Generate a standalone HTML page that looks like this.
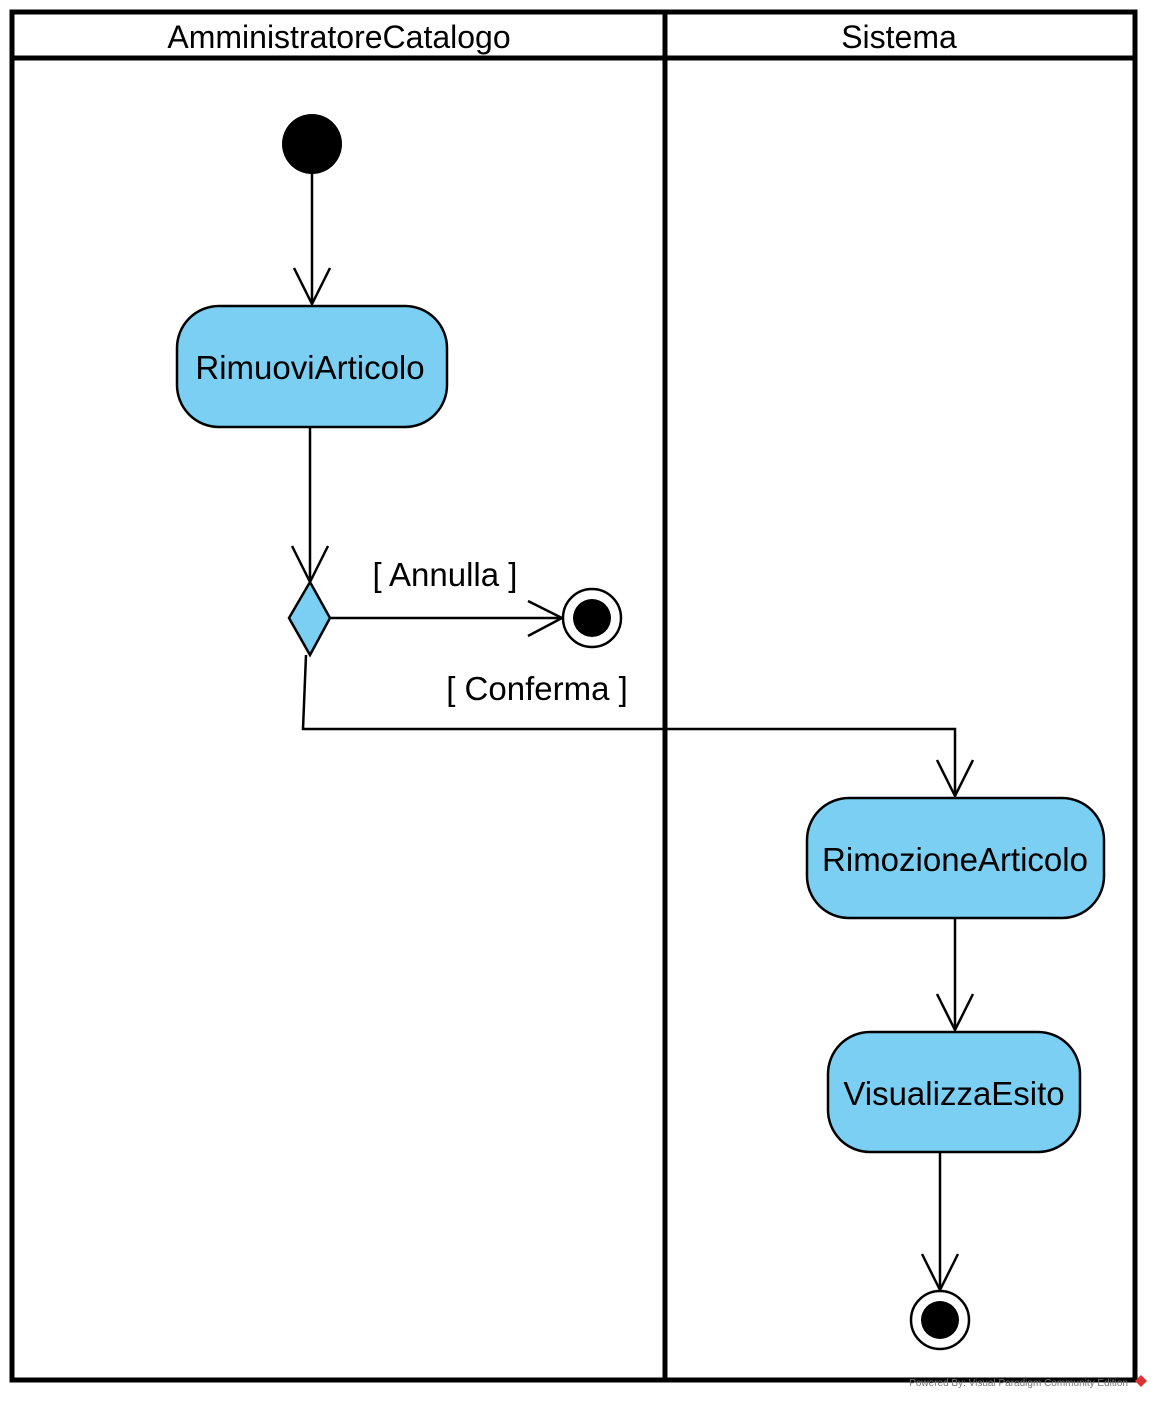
<!DOCTYPE html>
<html><head><meta charset="utf-8"><style>
html,body{margin:0;padding:0;background:#fff;}
svg{display:block;}
text{font-family:"Liberation Sans",Arial,sans-serif;fill:#000;}
</style></head><body>
<svg width="1158" height="1404" viewBox="0 0 1158 1404" xmlns="http://www.w3.org/2000/svg">
<g fill="none" stroke="#000" stroke-width="5">
<rect x="12" y="12" width="1123" height="1368"/>
<line x1="12" y1="58" x2="1135" y2="58"/>
<line x1="665" y1="12" x2="665" y2="1380"/>
</g>
<text x="339" y="48" font-size="32" text-anchor="middle">AmministratoreCatalogo</text>
<text x="899" y="48" font-size="32" text-anchor="middle">Sistema</text>

<circle cx="312" cy="144" r="30" fill="#000"/>

<g fill="none" stroke="#000" stroke-width="2.5">
<g>
<line x1="312" y1="174" x2="312" y2="304"/><polyline points="294,268 312,304 330,268"/></g>
<g>
<line x1="310" y1="427" x2="310" y2="582"/><polyline points="292,546 310,582 328,546"/></g>
<g>
<line x1="330" y1="618" x2="562" y2="618"/><polyline points="528,601 562,618 528,636"/></g>
<g>
<polyline points="306,655 303,729 955,729 955,796"/><polyline points="937,760 955,796 973,760"/></g>
<g>
<line x1="955" y1="918" x2="955" y2="1030"/><polyline points="937,994 955,1030 973,994"/></g>
<g>
<line x1="940" y1="1152" x2="940" y2="1290"/><polyline points="922,1254 940,1290 958,1254"/></g>
</g>

<g>
<rect x="177" y="306" width="270" height="121" rx="42" fill="#7BCFF3" stroke="#000" stroke-width="2.5"/>
<text x="310" y="379" font-size="33" text-anchor="middle">RimuoviArticolo</text></g>

<polygon points="310,582 330,618 310,655 289,618" fill="#7BCFF3" stroke="#000" stroke-width="2.5"/>

<text x="445" y="586" font-size="33" text-anchor="middle">[ Annulla ]</text>
<text x="537" y="700" font-size="33" text-anchor="middle">[ Conferma ]</text>

<g>
<circle cx="592" cy="618" r="29" fill="#fff" stroke="#000" stroke-width="2.5"/>
<circle cx="592" cy="618" r="19" fill="#000"/></g>

<g>
<rect x="807" y="798" width="297" height="120" rx="42" fill="#7BCFF3" stroke="#000" stroke-width="2.5"/>
<text x="955" y="871" font-size="33" text-anchor="middle">RimozioneArticolo</text></g>

<g>
<rect x="828" y="1032" width="252" height="120" rx="42" fill="#7BCFF3" stroke="#000" stroke-width="2.5"/>
<text x="954" y="1105" font-size="33" text-anchor="middle">VisualizzaEsito</text></g>

<g>
<circle cx="940" cy="1320" r="29" fill="#fff" stroke="#000" stroke-width="2.5"/>
<circle cx="940" cy="1320" r="19" fill="#000"/></g>

<text x="1128" y="1386" font-size="10" text-anchor="end" style="fill:#777">Powered By: Visual Paradigm Community Edition</text>
<polygon points="1141,1375 1147,1381 1141,1387 1135,1381" fill="#d33"/>
</svg>
</body></html>
